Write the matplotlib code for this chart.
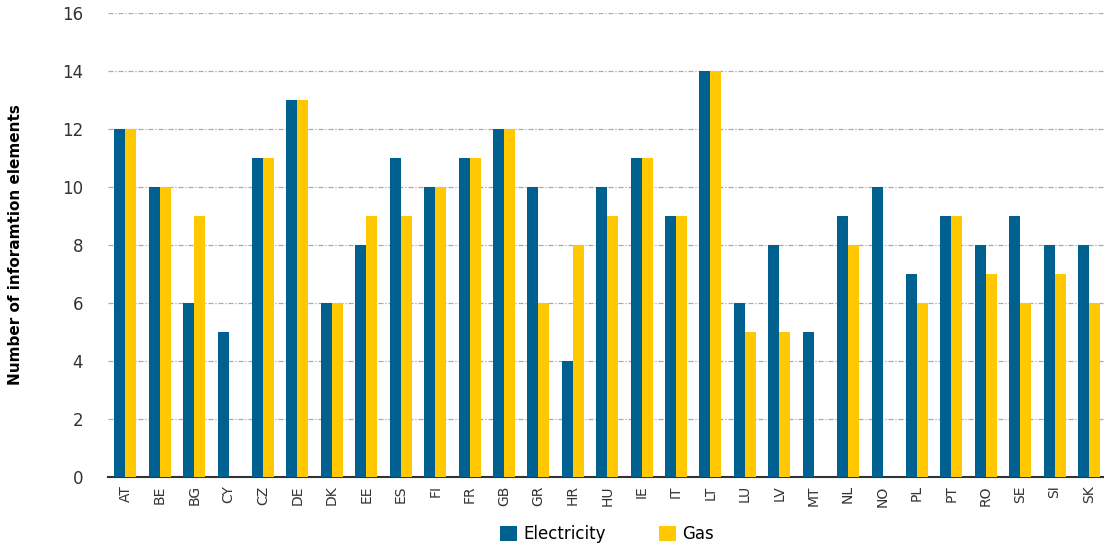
import numpy as np
import matplotlib.pyplot as plt

# country codes and number of information elements
countries = ['AT', 'BE', 'BG', 'CY', 'CZ', 'DE', 'DK', 'EE', 'ES', 'FI', 'FR', 'GB', 'GR', 'HR',
             'HU', 'IE', 'IT', 'LT', 'LU', 'LV', 'MT', 'NL', 'NO', 'PL', 'PT', 'RO', 'SE', 'SI', 'SK']
electricity = [12, 10, 6, 5, 11, 13, 6, 8, 11, 10, 11, 12, 10, 4,
               10, 11, 9, 14, 6, 8, 5, 9, 10, 7, 9, 8, 9, 8, 8]
gas = [12, 10, 9, 0, 11, 13, 6, 9, 9, 10, 11, 12, 6, 8,
       9, 11, 9, 14, 5, 5, 0, 8, 0, 6, 9, 7, 6, 7, 6]

x = np.arange(len(countries))
w = 0.32

fig = plt.figure(figsize=(11.04, 5.53), dpi=100)
ax = fig.add_axes([0.098, 0.1374, 0.904, 0.8391])

ax.bar(x - w / 2, electricity, width=w, color='#00608f', label='Electricity', zorder=3)
ax.bar(x + w / 2, gas, width=w, color='#ffc800', label='Gas', zorder=3)

ax.set_xlim(-0.5, len(countries) - 0.5)
ax.set_ylim(0, 16)
ax.set_yticks(range(0, 17, 2))
ax.set_xticks(x)
ax.set_xticklabels(countries, rotation=90, fontsize=10, color='#333333')
ax.tick_params(axis='y', labelsize=12, length=0, pad=18, colors='#333333')
ax.tick_params(axis='x', length=0, pad=6)

ax.yaxis.grid(True, color='#aaaaaa', linestyle=(0, (4, 1.5, 1, 1.5)), linewidth=0.9, zorder=0)
for s in ['top', 'right', 'left']:
    ax.spines[s].set_visible(False)
ax.spines['bottom'].set_color('#333333')
ax.spines['bottom'].set_linewidth(1.5)

ax.set_ylabel('Number of inforamtion elements', fontsize=11, fontweight='bold', labelpad=28)

ax.legend(loc='lower center', bbox_to_anchor=(0.5, -0.175), ncol=2, frameon=False,
          fontsize=12, handlelength=1.0, handleheight=1.0, columnspacing=3.2, handletextpad=0.4)

fig.savefig('out.png', dpi=100)
